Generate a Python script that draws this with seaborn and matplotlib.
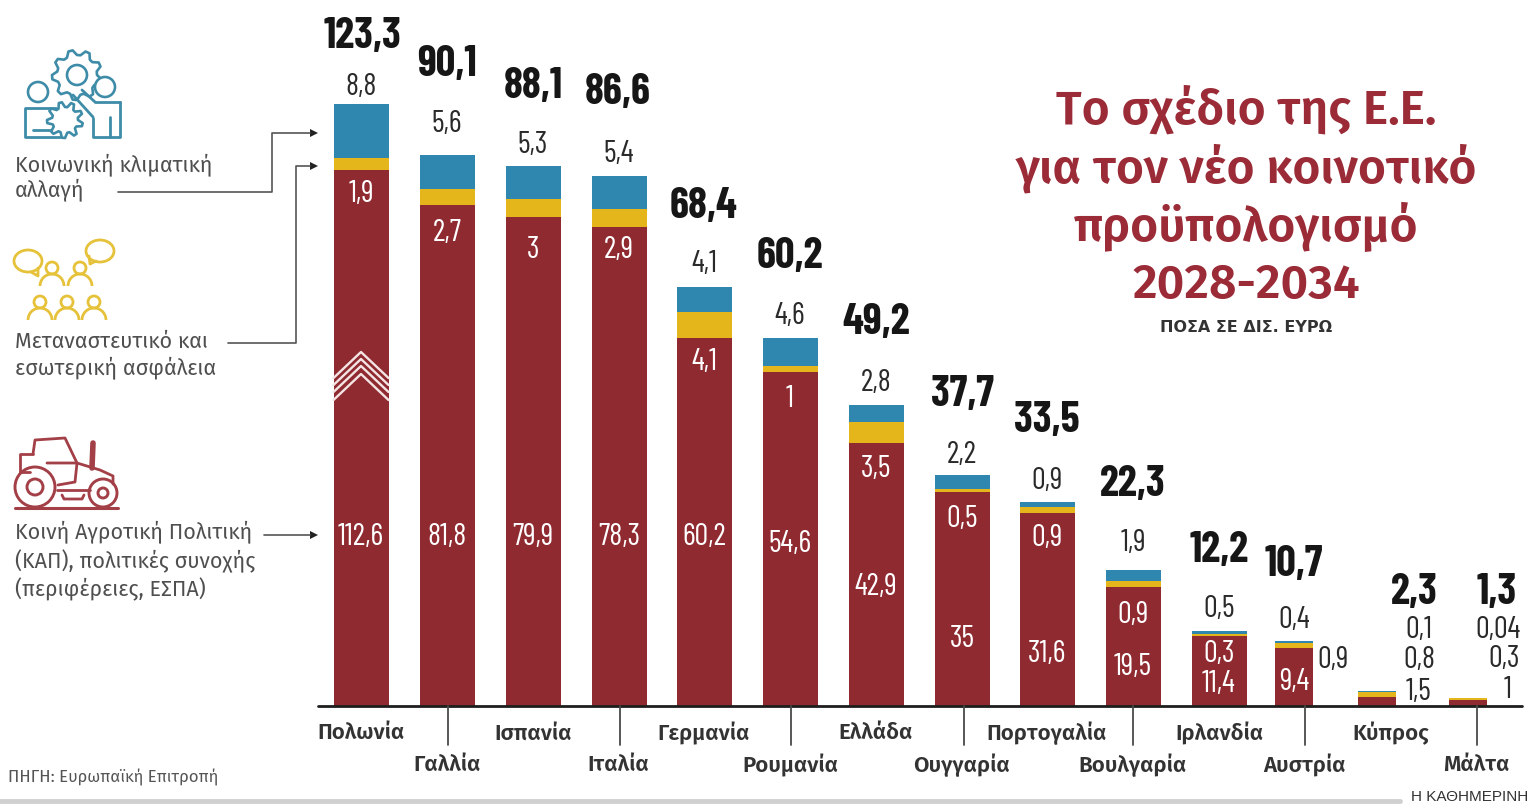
import numpy as np
import pandas as pd
import matplotlib
matplotlib.use("Agg")
import matplotlib.pyplot as plt
from matplotlib.patches import Circle, Arc, Polygon
import seaborn as sns

# Data, in billion euro
countries = ["Πολωνία", "Γαλλία", "Ισπανία", "Ιταλία", "Γερμανία", "Ρουμανία", "Ελλάδα",
             "Ουγγαρία", "Πορτογαλία", "Βουλγαρία", "Ιρλανδία", "Αυστρία", "Κύπρος", "Μάλτα"]
cap_values = [112.6, 81.8, 79.9, 78.3, 60.2, 54.6, 42.9, 35, 31.6, 19.5, 11.4, 9.4, 1.5, 1]
migration_values = [1.9, 2.7, 3, 2.9, 4.1, 1, 3.5, 0.5, 0.9, 0.9, 0.3, 0.9, 0.8, 0.3]
climate_values = [8.8, 5.6, 5.3, 5.4, 4.1, 4.6, 2.8, 2.2, 0.9, 1.9, 0.5, 0.4, 0.1, 0.04]
total_labels = ["123,3", "90,1", "88,1", "86,6", "68,4", "60,2", "49,2", "37,7", "33,5", "22,3",
                "12,2", "10,7", "2,3", "1,3"]
cap_labels = ["112,6", "81,8", "79,9", "78,3", "60,2", "54,6", "42,9", "35", "31,6", "19,5",
              "11,4", "9,4", "1,5", "1"]
migration_labels = ["1,9", "2,7", "3", "2,9", "4,1", "1", "3,5", "0,5", "0,9", "0,9", "0,3",
                    "0,9", "0,8", "0,3"]
climate_labels = ["8,8", "5,6", "5,3", "5,4", "4,1", "4,6", "2,8", "2,2", "0,9", "1,9", "0,5",
                  "0,4", "0,1", "0,04"]

# The Poland bar is drawn shortened in the source (white chevrons mark the cut)
poland_cut = 25.0

# Layout, in pixels of the 1534x807 picture
bar_centers = [361, 447, 533, 619, 704, 790, 876, 962, 1047, 1133, 1219, 1294, 1377, 1468]
n_wide = 11
wide_px, narrow_px = 55, 38
base_px, px_per_unit = 706, 6.12
name_x = [361, 447, 533, 618, 704, 790, 876, 962, 1047, 1133, 1219, 1304, 1391, 1476]
sep_x = [448, 620, 791, 964, 1133, 1305, 1477]
total_x = [362, 447, 533, 618, 704, 790, 876, 962, 1047, 1133, 1219, 1294, 1414, 1497]
total_y = [36, 65, 86, 93, 206, 256, 322, 394, 421, 484, 550, 565, 592, 592]
climate_x = [361, 447, 533, 619, 704, 790, 876, 962, 1047, 1133, 1219, 1294, 1419, 1498]
climate_y = [87, 124, 145, 154, 264, 316, 383, 455, 481, 543, 609, 620, 630, 630]
mig_x = [361, 447, 533, 619, 704, 790, 876, 962, 1047, 1133, 1219, 1333, 1419, 1504]
mig_y = [194, 233, 250, 250, 362, 399, 469, 519, 538, 615, 654, 660, 660, 659]
cap_x = [361, 447, 533, 619, 704, 790, 876, 962, 1047, 1133, 1219, 1294, 1419, 1508]
cap_y = [537, 537, 537, 537, 537, 544, 587, 639, 654, 667, 684, 682, 692, 690]

RED, YELLOW, BLUE = "#8E2A30", "#E5B51C", "#2F86AE"
ICON_BLUE, ICON_YELLOW, ICON_RED = "#3F8CA8", "#E6C23A", "#A33F47"
TITLE_RED = "#9A2B37"
TEXT = "#2A2A2A"
GREY = "#4A4A4A"
NARROW = ["Barlow Condensed", "Liberation Sans"]
SANS = ["Fira Sans", "Noto Sans", "DejaVu Sans"]

sns.set_theme(style="white")
plt.rcParams["font.family"] = SANS

df = pd.DataFrame({"country": countries, "x": bar_centers, "cap": cap_values,
                   "migration": migration_values, "climate": climate_values})
df["cap_drawn"] = df["cap"]
df.loc[0, "cap_drawn"] = df.loc[0, "cap"] - poland_cut
df["mid_top"] = df["cap_drawn"] + df["migration"]
df["top"] = df["mid_top"] + df["climate"]


def draw_bars(ax, part, width_px):
    spacing = np.diff(part["x"]).min()
    # stacking by overlap: tallest first
    for col, color in [("top", BLUE), ("mid_top", YELLOW), ("cap_drawn", RED)]:
        sns.barplot(data=part, x="x", y=col, native_scale=True, width=width_px / spacing,
                    color=color, saturation=1, linewidth=0, ax=ax)


def label(pax, x, y, s, size=20, color=TEXT, weight="normal", family=NARROW, ha="center"):
    pax.text(x, y, s, fontsize=size, color=color, fontweight=weight, family=family,
             ha=ha, va="center")


def line(pax, xs, ys, color, lw=1.6, **kw):
    pax.plot(xs, ys, color=color, lw=lw, solid_capstyle="round", solid_joinstyle="round", **kw)


def ring(pax, cx, cy, r, color, lw=1.9):
    pax.add_patch(Circle((cx, cy), r, fc="white", ec=color, lw=lw))


def gear(pax, cx, cy, r_in, r_out, teeth, color):
    angles = np.linspace(0, 2 * np.pi, teeth * 4, endpoint=False)
    radii = np.tile([r_in, r_out, r_out, r_in], teeth)
    pts = np.column_stack([cx + radii * np.cos(angles), cy + radii * np.sin(angles)])
    pax.add_patch(Polygon(pts, closed=True, fc="white", ec=color, lw=1.9, joinstyle="round"))


def person(pax, cx, cy, color, head=6, w=12):
    ring(pax, cx, cy, head, color, lw=2)
    pax.add_patch(Arc((cx, cy + head + w), 2 * w, 2 * w, theta1=180, theta2=360, ec=color, lw=2))


def bubble(pax, cx, cy, w, h, tail, color):
    pax.add_patch(Arc((cx, cy), w, h, ec=color, lw=2))
    line(pax, tail[0], tail[1], color, lw=2)


def draw_icons(pax):
    # social climate: two people and two gears
    gear(pax, 77, 75, 20, 25, 9, ICON_BLUE)
    ring(pax, 77, 75, 10, ICON_BLUE)
    ring(pax, 105, 87, 10, ICON_BLUE)
    line(pax, [120, 120, 93, 93], [102, 137, 137, 118], ICON_BLUE, lw=2)
    line(pax, [95, 120], [102, 102], ICON_BLUE, lw=2)
    line(pax, [73, 93], [95, 117], ICON_BLUE, lw=2)
    line(pax, [82, 95], [90, 102], ICON_BLUE, lw=2)
    line(pax, [110, 110], [117, 137], ICON_BLUE, lw=2)
    ring(pax, 38, 92, 10, ICON_BLUE)
    line(pax, [56, 25, 25, 60], [108, 108, 137, 137], ICON_BLUE, lw=2)
    line(pax, [33, 50], [130, 130], ICON_BLUE, lw=2)
    gear(pax, 65, 120, 13, 18, 9, ICON_BLUE)

    # migration and security: people talking
    bubble(pax, 28, 261, 28, 22, ([31, 38, 38], [272, 276, 268]), ICON_YELLOW)
    bubble(pax, 100, 251, 28, 22, ([89, 90, 96], [256, 264, 261]), ICON_YELLOW)
    for cx, cy in [(52, 268), (80, 268), (40, 302), (67, 302), (94, 302)]:
        person(pax, cx, cy, ICON_YELLOW)

    # tractor
    line(pax, [33, 35, 65, 77, 100, 113, 113], [454, 440, 438, 463, 470, 476, 484], ICON_RED, lw=2)
    line(pax, [33, 20, 20, 30], [454, 454, 472, 472], ICON_RED, lw=2)
    line(pax, [47, 77, 75, 58], [463, 463, 482, 485], ICON_RED, lw=2)
    line(pax, [93, 92], [443, 468], ICON_RED, lw=4)
    line(pax, [57, 90], [490, 490], ICON_RED, lw=2)
    line(pax, [62, 64, 82, 84], [495, 499, 499, 495], ICON_RED, lw=2)
    ring(pax, 35, 487, 20, ICON_RED, lw=2.1)
    ring(pax, 35, 487, 8, ICON_RED, lw=2.1)
    ring(pax, 103, 493, 14, ICON_RED, lw=2.1)
    ring(pax, 103, 493, 5, ICON_RED, lw=2.1)
    line(pax, [15, 118], [508, 508], ICON_RED, lw=2.2)


def main():
    fig = plt.figure(figsize=(15.34, 8.07), dpi=100, facecolor="white")

    # Bars live in a full-figure axes scaled so one euro unit is px_per_unit pixels
    ax = fig.add_axes([0, 0, 1, 1])
    draw_bars(ax, df.iloc[:n_wide], wide_px)
    draw_bars(ax, df.iloc[n_wide:], narrow_px)
    ax.set_xlim(0, 1534)
    ax.set_ylim(-(807 - base_px) / px_per_unit, base_px / px_per_unit)
    ax.axis("off")

    # Everything else is placed in picture pixels
    pax = fig.add_axes([0, 0, 1, 1], facecolor="none")
    pax.set_xlim(0, 1534)
    pax.set_ylim(807, 0)
    pax.axis("off")

    line(pax, [318, 1522], [base_px, base_px], "#1E1E1E", lw=2)
    for x in sep_x:
        line(pax, [x, x], [base_px, 745], GREY, lw=1.3)
    for i, name in enumerate(countries):
        label(pax, name_x[i], 733 if i % 2 == 0 else 765, name, size=16, color="#333333",
              weight=600, family=SANS)

    # Value labels
    for i in range(len(countries)):
        label(pax, total_x[i], total_y[i], total_labels[i], size=31, weight="bold", color="#161616")
        label(pax, climate_x[i], climate_y[i], climate_labels[i], size=22)
        inside = mig_x[i] == bar_centers[i]
        label(pax, mig_x[i], mig_y[i], migration_labels[i], size=22,
              color="white" if inside else TEXT)
        inside = cap_x[i] == bar_centers[i]
        label(pax, cap_x[i], cap_y[i], cap_labels[i], size=22,
              color="white" if inside else TEXT)

    # Break marks on the Poland bar
    left, right = bar_centers[0] - wide_px / 2, bar_centers[0] + wide_px / 2
    for apex in [352, 359, 366, 374]:
        line(pax, [left, bar_centers[0], right], [apex + 26, apex, apex + 26], "#F4E4E4", lw=1.7)

    # Left hand legend
    legend_text = [(165, "Κοινωνική κλιματική"), (191, "αλλαγή"), (342, "Μεταναστευτικό και"),
                   (368, "εσωτερική ασφάλεια"), (533, "Κοινή Αγροτική Πολιτική"),
                   (561, "(ΚΑΠ), πολιτικές συνοχής"), (589, "(περιφέρειες, ΕΣΠΑ)")]
    for y, s in legend_text:
        label(pax, 15, y, s, size=15.5, color="#4F4F4F", family=SANS, ha="left")

    arrow_paths = [([118, 272, 272, 310], [192, 192, 133, 133]),
                   ([228, 296, 296, 310], [343, 343, 166, 166]),
                   ([264, 310], [535, 535])]
    for xs, ys in arrow_paths:
        line(pax, xs, ys, "#555555", lw=1.2)
        pax.add_patch(Polygon([(xs[-1], ys[-1] - 4), (xs[-1] + 8, ys[-1]), (xs[-1], ys[-1] + 4)],
                              fc="#222222", ec="none"))

    draw_icons(pax)

    # Title block
    for y, s in [(109, "Το σχέδιο της Ε.Ε."), (168, "για τον νέο κοινοτικό"),
                 (227, "προϋπολογισμό"), (286, "2028-2034")]:
        label(pax, 1246, y, s, size=34.5, color=TITLE_RED, weight=600, family=SANS)
    label(pax, 1246, 328, "ΠΟΣΑ ΣΕ ΔΙΣ. ΕΥΡΩ", size=11.5, color="#333333", weight="bold",
          family=["DejaVu Sans"])

    # Footer
    label(pax, 8, 777, "ΠΗΓΗ: Ευρωπαϊκή Επιτροπή", size=12, color="#555555", family=SANS, ha="left")
    line(pax, [0, 1400], [801, 801], "#D0D0D0", lw=3.5)
    label(pax, 1470, 797, "Η ΚΑΘΗΜΕΡΙΝΗ", size=11, color="#333333", family=["Liberation Sans"])

    fig.savefig("out.png", dpi=100)


if __name__ == "__main__":
    main()
